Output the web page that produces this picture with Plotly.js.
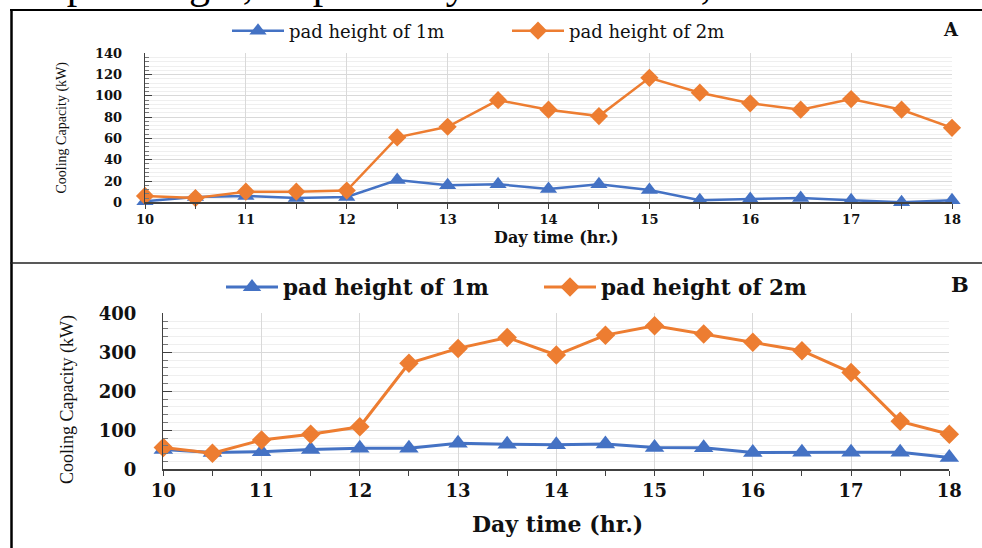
<!DOCTYPE html>
<html>
<head>
<meta charset="utf-8">
<script src="https://cdn.plot.ly/plotly-3.0.1.min.js"></script>
<style>html,body{margin:0;padding:0;background:#fff;overflow:hidden;}#chart{width:982px;height:548px;}</style>
</head>
<body>
<div id="chart"></div>
<script>
// ---- data ----
var hours = [10, 10.5, 11, 11.5, 12, 12.5, 13, 13.5, 14, 14.5, 15, 15.5, 16, 16.5, 17, 17.5, 18];
var hourTicks = [10, 11, 12, 13, 14, 15, 16, 17, 18];
var hourTickLabels = ["10", "11", "12", "13", "14", "15", "16", "17", "18"];
var seriesNames = ["pad height of 1m", "pad height of 2m"];
// Panel A
var panelA_pad1m = [1, 5, 6, 4, 5, 21, 16, 17, 12.5, 17, 11.5, 2, 3, 4, 2, 0, 2];
var panelA_pad2m = [6, 4, 10, 10, 11, 61, 71, 96, 87, 81, 117, 103, 93, 87, 97, 87, 70];
// Panel B
var panelB_pad1m = [51, 43, 45, 51, 54, 54, 67, 64, 63, 65, 56, 55, 43, 44, 44, 44, 30];
var panelB_pad2m = [56, 41, 75, 90, 109, 272, 310, 338, 293, 344, 368, 347, 326, 304, 248, 123, 90];
var yTitle = "Cooling Capacity (kW)";
var xTitle = "Day time (hr.)";
var panelLetters = ["A", "B"];
var topLine = "5 in pad height, respectively. For 6.0 m s<sup>-1</sup>,";

// ---- layout helpers ----
var W = 982, H = 548;
function px(x) { return x / W; }
function py(y) { return 1 - y / H; }
var BLUE = "#4472C4", ORANGE = "#ED7D31";

var traces = [
  {x: hours, y: panelA_pad1m, name: seriesNames[0], xaxis: "x", yaxis: "y", legend: "legend",
   mode: "lines+markers", cliponaxis: false,
   line: {color: BLUE, width: 2.5}, marker: {symbol: "triangle-up", size: 15, color: BLUE}},
  {x: hours, y: panelA_pad2m, name: seriesNames[1], xaxis: "x", yaxis: "y", legend: "legend",
   mode: "lines+markers", cliponaxis: false,
   line: {color: ORANGE, width: 2.5}, marker: {symbol: "diamond", size: 14, color: ORANGE}},
  {x: hours, y: panelB_pad1m, name: seriesNames[0], xaxis: "x2", yaxis: "y2", legend: "legend2",
   mode: "lines+markers", cliponaxis: false,
   line: {color: BLUE, width: 3}, marker: {symbol: "triangle-up", size: 17, color: BLUE}},
  {x: hours, y: panelB_pad2m, name: seriesNames[1], xaxis: "x2", yaxis: "y2", legend: "legend2",
   mode: "lines+markers", cliponaxis: false,
   line: {color: ORANGE, width: 3}, marker: {symbol: "diamond", size: 15, color: ORANGE}}
];

var tickFontA = {family: "DejaVu Serif", size: 13, color: "#111", weight: "bold"};
var tickFontB = {family: "DejaVu Serif", size: 18, color: "#111", weight: "bold"};
var AX = "#404040", GRID = "#d9d9d9", MINOR = "#efefef";

function xax(domain, font, standoff) {
  return {domain: domain, range: [10, 18], tickmode: "array", tickvals: hourTicks, ticktext: hourTickLabels,
    showline: true, linecolor: AX, linewidth: 1.3, ticks: "outside", ticklen: 5, tickcolor: AX,
    showgrid: true, gridcolor: GRID, gridwidth: 1, zeroline: false, tickfont: font, ticklabelstandoff: standoff,
    minor: {dtick: 0.5, tick0: 10, ticks: "outside", ticklen: 5, tickcolor: AX, showgrid: false},
    fixedrange: true};
}
function yax(domain, range, dtick, mdtick, font, tl, standoff) {
  return {domain: domain, range: range, dtick: dtick, tick0: 0,
    showline: true, linecolor: AX, linewidth: 1.3, ticks: "inside", ticklen: tl, tickcolor: AX,
    showgrid: true, gridcolor: GRID, gridwidth: 1, zeroline: false, tickfont: font, ticklabelstandoff: standoff,
    minor: {dtick: mdtick, ticks: "inside", ticklen: Math.round(tl * 0.6), tickcolor: "#777", showgrid: true, gridcolor: MINOR},
    fixedrange: true};
}

var layout = {
  width: W, height: H, margin: {l: 0, r: 0, t: 0, b: 0, autoexpand: false},
  paper_bgcolor: "#fff", plot_bgcolor: "#fff",
  showlegend: true,
  xaxis: xax([px(145), px(952)], tickFontA, 0),
  yaxis: yax([py(202.3), py(53.3)], [0, 140], 20, 4, tickFontA, 7, 19),
  xaxis2: Object.assign(xax([px(163.3), px(949.3)], tickFontB, 0), {anchor: "y2"}),
  yaxis2: Object.assign(yax([py(469.3), py(313.3)], [0, 400], 100, 20, tickFontB, 9, 22), {anchor: "x2"}),
  legend: {orientation: "h", x: px(227), y: py(31), xanchor: "left", yanchor: "middle",
    font: {family: "DejaVu Serif", size: 18, color: "#111"}, itemwidth: 52,
    entrywidth: 213, entrywidthmode: "pixels", bgcolor: "rgba(0,0,0,0)", traceorder: "normal"},
  legend2: {orientation: "h", x: px(221), y: py(287), xanchor: "left", yanchor: "middle",
    font: {family: "DejaVu Serif", size: 21.5, color: "#111", weight: "bold"}, itemwidth: 52,
    entrywidth: 251, entrywidthmode: "pixels", bgcolor: "rgba(0,0,0,0)", traceorder: "normal"},
  shapes: [
    {type: "line", xref: "paper", yref: "paper", x0: px(11.5), x1: px(11.5), y0: py(9), y1: py(548), line: {color: "#000", width: 2.5}},
    {type: "line", xref: "paper", yref: "paper", x0: px(10), x1: px(982), y0: py(10), y1: py(10), line: {color: "#000", width: 2}},
    {type: "line", xref: "paper", yref: "paper", x0: px(10), x1: px(982), y0: py(263), y1: py(263), line: {color: "#222", width: 1.5}}
  ],
  annotations: [
    {text: topLine, xref: "paper", yref: "paper", x: px(-10), y: py(9), xanchor: "left", yanchor: "bottom",
     showarrow: false, font: {family: "Liberation Serif", size: 42, color: "#000"}},
    {text: panelLetters[0], xref: "paper", yref: "paper", x: px(951), y: py(29), xanchor: "center", yanchor: "middle",
     showarrow: false, font: {family: "DejaVu Serif", size: 18, color: "#111", weight: "bold"}},
    {text: panelLetters[1], xref: "paper", yref: "paper", x: px(960), y: py(284), xanchor: "center", yanchor: "middle",
     showarrow: false, font: {family: "DejaVu Serif", size: 21, color: "#111", weight: "bold"}},
    {text: yTitle, xref: "paper", yref: "paper", x: px(61), y: py(127.5), xanchor: "center", yanchor: "middle",
     textangle: -90, showarrow: false, font: {family: "Liberation Serif", size: 14, color: "#111"}},
    {text: xTitle, xref: "paper", yref: "paper", x: px(556), y: py(237), xanchor: "center", yanchor: "middle",
     showarrow: false, font: {family: "DejaVu Serif", size: 16, color: "#111", weight: "bold"}},
    {text: yTitle, xref: "paper", yref: "paper", x: px(67), y: py(400), xanchor: "center", yanchor: "middle",
     textangle: -90, showarrow: false, font: {family: "Liberation Serif", size: 18, color: "#111"}},
    {text: xTitle, xref: "paper", yref: "paper", x: px(557), y: py(524), xanchor: "center", yanchor: "middle",
     showarrow: false, font: {family: "DejaVu Serif", size: 22, color: "#111", weight: "bold"}}
  ]
};

Plotly.newPlot("chart", traces, layout, {displayModeBar: false, staticPlot: true});
</script>
</body>
</html>
